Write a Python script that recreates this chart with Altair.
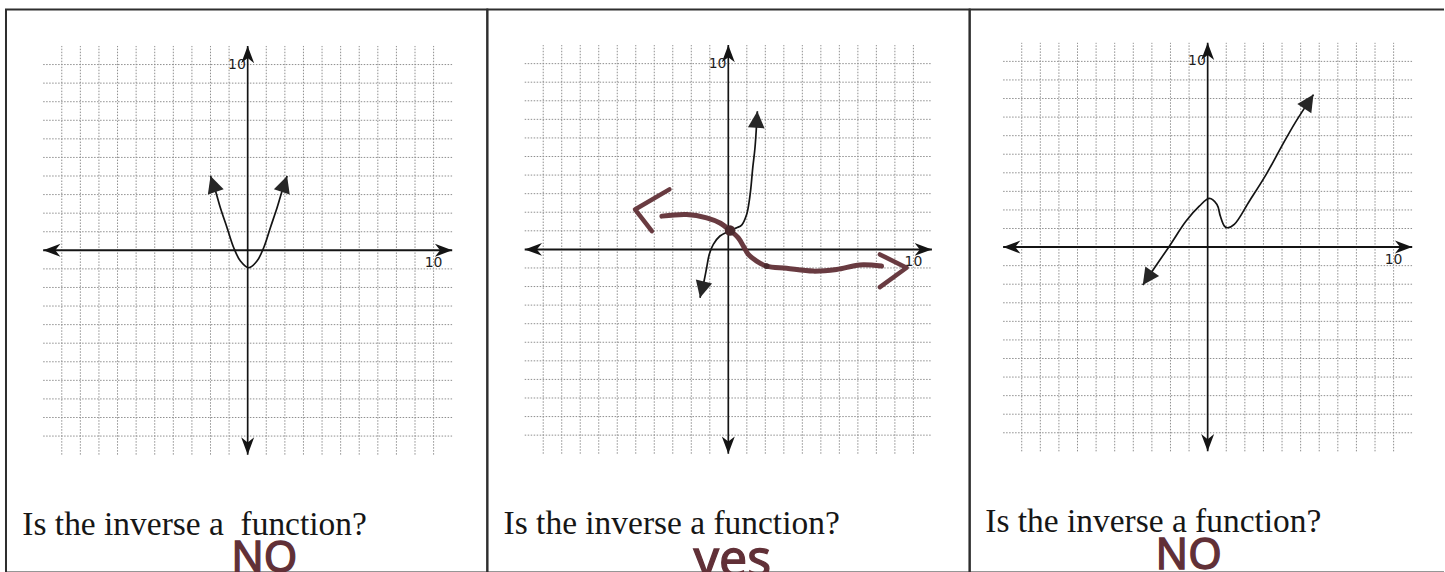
import math

import altair as alt
import pandas as pd

# ---------------------------------------------------------------- values ----
# Coordinate grid: one line per integer from -10 to 10, drawn out to +/-11
GRID_TICKS = list(range(-10, 11))
GRID_REACH = 11
AXIS_LABEL = "10"

# Graph 1: U-shaped curve, both ends pointing up
P1_X = [-2.0, -1.73, -1.47, -1.11, -0.75, -0.39, 0.05, 0.5, 0.86, 1.22, 1.58, 1.85, 2.12]
P1_Y = [4.0, 3.19, 2.29, 1.22, 0.14, -0.58, -0.94, -0.58, 0.14, 1.22, 2.29, 3.19, 4.0]

# Graph 2: increasing curve
P2_X = [-1.53, -1.31, -1.17, -1.03, -0.81, -0.45, 0.09, 0.45, 0.72, 0.99, 1.13, 1.22, 1.32, 1.44, 1.57]
P2_Y = [-2.6, -1.7, -0.99, -0.27, 0.27, 0.72, 1.0, 1.16, 1.31, 1.88, 2.6, 3.31, 4.39, 5.46, 7.44]

# Graph 2: the inverse sketched by hand, with its two open arrow ends and dots
INV_X = [-3.59, -2.25, -1.17, -0.45, 0.09, 0.54, 0.81, 1.08, 1.53, 2.07, 3.15, 4.59, 5.85, 7.1, 8.28]
INV_Y = [1.79, 1.88, 1.7, 1.42, 1.02, 0.62, 0.18, -0.27, -0.63, -0.9, -1.02, -1.17, -1.08, -0.84, -0.9]
INV_LEFT_X = [-3.18, -5.04, -4.13]
INV_LEFT_Y = [3.23, 2.15, 0.98]
INV_RIGHT_X = [8.19, 9.63, 8.19]
INV_RIGHT_Y = [-0.27, -0.99, -2.03]
INV_DOT_X = [0.09, 2.07]
INV_DOT_Y = [1.02, -0.9]
INV_DOT_SIZE = [110, 35]

# Graph 3: rising curve with a small dip after the y-axis
P3_X = [-3.49, -2.06, -1.16, -0.45, 0.09, 0.5, 0.68, 0.9, 1.07, 1.43, 2.24, 3.14, 4.03, 4.75, 5.69]
P3_Y = [-2.04, 0.05, 1.40, 2.2, 2.62, 2.29, 1.67, 1.13, 1.04, 1.22, 2.47, 3.9, 5.52, 6.77, 8.21]

QUESTIONS = ["Is the inverse a\u00a0 function?", "Is the inverse a function?", "Is the inverse a function?"]
ANSWERS = ["NO", "yes", "NO"]

# ---------------------------------------------------------------- styling ---
INK = "#141414"
HEAD = "#262626"
PEN = "#613037"
GRID = "#8f8f8f"
BORDER = "#2e2e2e"
PANEL_H = 564

# filled head with its tip at the origin, pointing up
HEAD_SHAPE = "M0,0L1,2L-1,2Z"
# barbed axis head, tip at the origin, pointing up
AXIS_SHAPE = "M0,0L0.75,2L0,1.4L-0.75,2Z"

LAYOUT = [
    dict(width=482, x_dom=(-13.0, 12.89), y_dom=(-17.35, 12.97),
         q_x=-12.12, q_y=-15.31, a_x=0.89, a_y=-17.3, a_size=43),
    dict(width=483, x_dom=(-13.02, 13.04), y_dom=(-17.40, 12.92),
         q_x=-12.14, q_y=-15.31, a_x=0.22, a_y=-17.6, a_size=50),
    dict(width=475, x_dom=(-12.80, 12.71), y_dom=(-17.53, 12.80),
         q_x=-11.96, q_y=-15.33, a_x=-1.02, a_y=-17.35, a_size=43),
]

CURVES = [[(P1_X, P1_Y)], [(P2_X, P2_Y)], [(P3_X, P3_Y)]]


def heading(tip, prev):
    """Clockwise angle (degrees) from 'up' for a head pointing from prev to tip."""
    dx = tip[0] - prev[0]
    dy = tip[1] - prev[1]
    return math.degrees(math.atan2(dx, dy)) % 360


def path_frame(paths):
    rows = []
    for s, (xs, ys) in enumerate(paths):
        for i, (x, y) in enumerate(zip(xs, ys)):
            rows.append({"x": x, "y": y, "i": i, "seg": s})
    return pd.DataFrame(rows)


def head_frame(paths):
    rows = []
    for xs, ys in paths:
        pts = list(zip(xs, ys))
        rows.append({"x": pts[0][0], "y": pts[0][1], "ang": heading(pts[0], pts[1])})
        rows.append({"x": pts[-1][0], "y": pts[-1][1], "ang": heading(pts[-1], pts[-2])})
    return pd.DataFrame(rows)


def panel(k):
    lay = LAYOUT[k]
    xs = alt.Scale(domain=list(lay["x_dom"]), nice=False, zero=False)
    ys = alt.Scale(domain=list(lay["y_dom"]), nice=False, zero=False)

    def X(f):
        return alt.X(f"{f}:Q", scale=xs, axis=None)

    def Y(f):
        return alt.Y(f"{f}:Q", scale=ys, axis=None)

    ticks = [t for t in GRID_TICKS if t != 0]
    r = GRID_REACH

    vgrid = alt.Chart(pd.DataFrame({"x": ticks, "lo": -r, "hi": r})).mark_rule(
        stroke=GRID, strokeWidth=1, strokeDash=[1.5, 1.5]
    ).encode(x=X("x"), y=Y("lo"), y2="hi")
    hgrid = alt.Chart(pd.DataFrame({"y": ticks, "lo": -r, "hi": r})).mark_rule(
        stroke=GRID, strokeWidth=1, strokeDash=[1.5, 1.5]
    ).encode(y=Y("y"), x=X("lo"), x2="hi")

    x_axis = alt.Chart(pd.DataFrame({"y": [0], "lo": [-r], "hi": [r]})).mark_rule(
        stroke=INK, strokeWidth=2
    ).encode(y=Y("y"), x=X("lo"), x2="hi")
    y_axis = alt.Chart(pd.DataFrame({"x": [0], "lo": [-r], "hi": [r]})).mark_rule(
        stroke=INK, strokeWidth=1.7
    ).encode(x=X("x"), y=Y("lo"), y2="hi")
    axis_heads = alt.Chart(pd.DataFrame({
        "x": [r, -r, 0, 0], "y": [0, 0, r, -r], "ang": [90, 270, 0, 180],
    })).mark_point(shape=AXIS_SHAPE, filled=True, size=300, opacity=1, color=INK).encode(
        x=X("x"), y=Y("y"), angle=alt.Angle("ang:Q", scale=None)
    )

    y_label = alt.Chart(pd.DataFrame({"x": [-0.1], "y": [10], "t": [AXIS_LABEL]})).mark_text(
        align="right", baseline="middle", font="DejaVu Sans", fontSize=14, color="#1e1e1e"
    ).encode(x=X("x"), y=Y("y"), text="t:N")
    x_label = alt.Chart(pd.DataFrame({"x": [10], "y": [-0.3], "t": [AXIS_LABEL]})).mark_text(
        align="center", baseline="top", font="DejaVu Sans", fontSize=14, color="#1e1e1e"
    ).encode(x=X("x"), y=Y("y"), text="t:N")

    paths = CURVES[k]
    curve = alt.Chart(path_frame(paths)).mark_line(
        interpolate="catmull-rom", stroke=INK, strokeWidth=1.7
    ).encode(x=X("x"), y=Y("y"), detail="seg:N", order="i:Q")
    heads = alt.Chart(head_frame(paths)).mark_point(
        shape=HEAD_SHAPE, filled=True, size=280, opacity=1, color=HEAD
    ).encode(x=X("x"), y=Y("y"), angle=alt.Angle("ang:Q", scale=None))

    layers = [vgrid, hgrid, x_axis, y_axis, axis_heads, y_label, x_label, curve, heads]

    if k == 1:
        pen_line = alt.Chart(path_frame([(INV_X, INV_Y)])).mark_line(
            interpolate="catmull-rom", stroke=PEN, strokeWidth=5, strokeCap="round",
            strokeJoin="round", opacity=0.95
        ).encode(x=X("x"), y=Y("y"), detail="seg:N", order="i:Q")
        pen_ends = alt.Chart(path_frame([(INV_LEFT_X, INV_LEFT_Y), (INV_RIGHT_X, INV_RIGHT_Y)])).mark_line(
            interpolate="linear", stroke=PEN, strokeWidth=4.5, strokeCap="round",
            strokeJoin="round", opacity=0.95
        ).encode(x=X("x"), y=Y("y"), detail="seg:N", order="i:Q")
        pen_dots = alt.Chart(pd.DataFrame({"x": INV_DOT_X, "y": INV_DOT_Y, "s": INV_DOT_SIZE})).mark_circle(
            color="#4a2a2e", opacity=1
        ).encode(x=X("x"), y=Y("y"), size=alt.Size("s:Q", scale=None))
        layers += [pen_line, pen_ends, pen_dots]

    question = alt.Chart(pd.DataFrame({"x": [lay["q_x"]], "y": [lay["q_y"]], "t": [QUESTIONS[k]]})).mark_text(
        align="left", baseline="alphabetic", font="Liberation Serif", fontSize=33.5, color="#161616"
    ).encode(x=X("x"), y=Y("y"), text="t:N")
    # marker-pen answer: regular glyphs thickened with a thin outline
    answer = alt.Chart(pd.DataFrame({"x": [lay["a_x"]], "y": [lay["a_y"]], "t": [ANSWERS[k]]})).mark_text(
        align="center", baseline="alphabetic", font="Noto Sans", fontSize=lay["a_size"],
        color=PEN, stroke=PEN, strokeWidth=1.3, clip=True
    ).encode(x=X("x"), y=Y("y"), text="t:N")
    layers += [question, answer]

    w = lay["width"]
    if k == 2:
        # open on the right: stroke only the top, bottom and left sides
        view = alt.ViewBackground(stroke=BORDER, strokeWidth=2,
                                  strokeDash=[w, PANEL_H, w + PANEL_H + 50])
    else:
        view = alt.ViewBackground(stroke=BORDER, strokeWidth=2)

    return alt.layer(*layers).properties(width=w, height=PANEL_H, view=view)


chart = alt.hconcat(panel(0), panel(1), panel(2), spacing=0, bounds="flush").properties(
    padding={"left": 5, "top": 8, "right": 0, "bottom": 0},
    background="white",
).configure_view(stroke=None)

chart.save("out.html", embed_options={"renderer": "svg", "actions": False})
